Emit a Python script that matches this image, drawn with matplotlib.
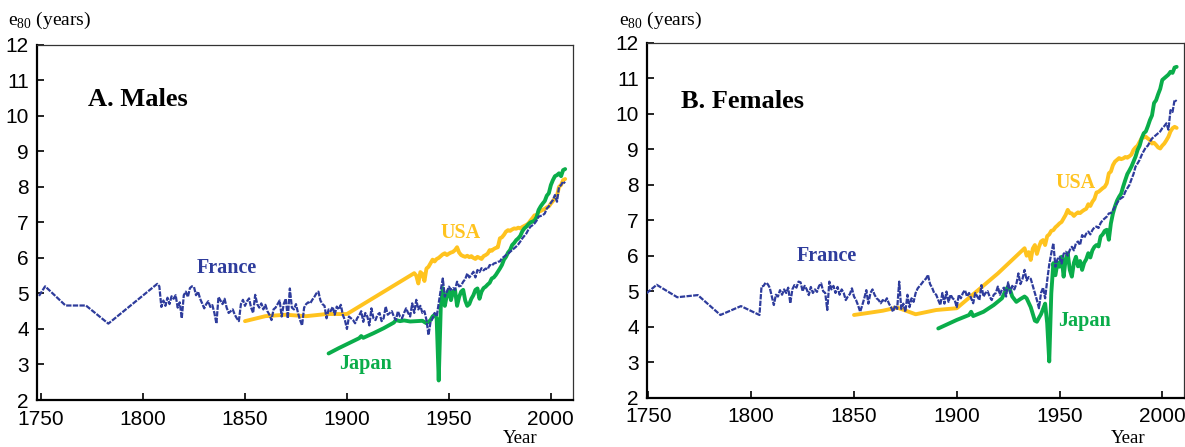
import matplotlib
matplotlib.use('Agg')
import matplotlib.pyplot as plt

plt.rcParams['font.family'] = 'Liberation Sans'
plt.rcParams['mathtext.fontset'] = 'custom'
plt.rcParams['mathtext.rm'] = 'Liberation Serif'

BLUE = '#2e3c9c'
YELLOW = '#ffc31f'
GREEN = '#0aad4a'

# ---- Males ----
m_france_years = [1749, 1752, 1762, 1772, 1783, 1807] + list(range(1808, 2008))
m_france = [4.93, 5.20, 4.66, 4.66, 4.15, 5.27,
            5.20, 4.62, 4.80, 4.65, 4.88, 4.70, 4.92, 4.85, 4.95, 4.60,
            4.75, 4.30, 4.95, 5.05, 4.90, 5.15, 5.20, 5.18, 4.95, 5.05,
            4.85, 4.72, 4.58, 4.70, 4.78, 4.62, 4.67, 4.45, 4.15, 4.90,
            4.80, 4.70, 4.85, 4.60, 4.45, 4.50, 4.55, 4.40, 4.30, 4.22,
            4.70, 4.82, 4.65, 4.78, 4.86, 4.60, 4.45, 4.96, 4.70, 4.60,
            4.72, 4.55, 4.68, 4.50, 4.40, 4.25, 4.55, 4.60, 4.70, 4.80,
            4.35, 4.70, 4.85, 4.30, 5.14, 4.60, 4.55, 4.70, 4.45, 4.25,
            4.10, 4.60, 4.70, 4.75, 4.72, 4.82, 4.90, 5.00, 5.05, 4.80,
            4.70, 4.65, 4.30, 4.55, 4.50, 4.62, 4.40, 4.63, 4.55, 4.68,
            4.39, 4.25, 4.00, 4.35, 4.30, 4.25, 4.16, 4.30, 4.38, 4.50,
            4.20, 4.45, 4.35, 4.10, 4.58, 4.30, 4.25, 4.40, 4.45, 4.22,
            4.30, 4.63, 4.40, 4.45, 4.50, 4.35, 4.25, 4.50, 4.35, 4.30,
            4.45, 4.58, 4.45, 4.35, 4.72, 4.45, 4.82, 4.55, 4.65, 4.45,
            4.50, 4.25, 3.83, 4.20, 4.30, 4.45, 4.35, 4.72, 5.10, 5.42,
            4.91, 5.05, 5.19, 5.10, 5.15, 5.10, 5.33, 5.20, 5.22, 5.33,
            5.40, 5.56, 5.45, 5.52, 5.61, 5.45, 5.66, 5.60, 5.71, 5.65,
            5.70, 5.68, 5.80, 5.78, 5.84, 5.86, 5.89, 5.90, 5.99, 6.03,
            6.08, 6.12, 6.17, 6.22, 6.27, 6.32, 6.38, 6.46, 6.55, 6.62,
            6.69, 6.80, 6.88, 6.92, 6.97, 7.05, 7.16, 7.18, 7.20, 7.25,
            7.39, 7.45, 7.55, 7.63, 7.77, 7.58, 8.00, 8.05, 8.15, 8.10]

m_usa_years = [1850, 1860, 1870, 1880, 1890, 1900] + list(range(1933, 2008))
m_usa = [4.22, 4.36, 4.40, 4.36, 4.42, 4.42,
         5.57, 5.50, 5.28, 5.60, 5.55, 5.35, 5.70, 5.75, 5.85, 5.95,
         5.90, 5.97, 6.00, 6.05, 6.10, 6.13, 6.08, 6.12, 6.15, 6.17,
         6.22, 6.30, 6.15, 6.08, 6.05, 6.03, 6.06, 6.02, 6.05, 6.00,
         5.97, 6.03, 6.00, 5.97, 6.05, 6.08, 6.12, 6.22, 6.20, 6.25,
         6.28, 6.30, 6.55, 6.58, 6.65, 6.74, 6.78, 6.76, 6.80, 6.83,
         6.82, 6.85, 6.83, 6.87, 6.90, 6.93, 6.97, 7.05, 7.12, 7.20,
         7.18, 7.30, 7.32, 7.35, 7.38, 7.42, 7.45, 7.53, 7.60, 7.68,
         7.75, 8.00, 8.05, 8.19, 8.22]

m_japan_years = [1891, 1896, 1901, 1906, 1907, 1908, 1913, 1918, 1923, 1924,
                 1926, 1928, 1931, 1934, 1937, 1939, 1940, 1941, 1942, 1943] + list(range(1944, 2008))
m_japan = [3.31, 3.46, 3.60, 3.74, 3.80, 3.75, 3.88, 4.02, 4.18, 4.25,
           4.22, 4.24, 4.21, 4.22, 4.23, 4.16, 4.20, 4.25, 4.35, 4.40,
           4.30, 2.55, 4.60, 5.15, 4.65, 4.95, 5.10, 4.81, 5.05, 5.10,
           4.65, 4.90, 5.05, 5.10, 4.80, 4.65, 4.70, 4.85, 4.95, 5.10,
           5.14, 4.85, 5.05, 5.15, 5.19, 5.25, 5.30, 5.42, 5.45, 5.52,
           5.61, 5.70, 5.80, 5.95, 6.03, 6.15, 6.22, 6.36, 6.42, 6.50,
           6.55, 6.62, 6.75, 6.83, 6.88, 6.95, 7.00, 7.02, 7.05, 7.15,
           7.35, 7.45, 7.53, 7.60, 7.75, 7.82, 8.05, 8.19, 8.30, 8.33,
           8.38, 8.30, 8.47, 8.50]

# ---- Females ----
f_france_years = [1749, 1754, 1764, 1774, 1785, 1795, 1804, 1805] + list(range(1806, 2008))
f_france = [4.94, 5.18, 4.83, 4.89, 4.33, 4.58, 4.33, 5.13,
            5.15, 5.24, 5.20, 5.10, 4.85, 4.61, 4.90, 4.85, 5.03, 4.90,
            5.05, 4.95, 5.10, 4.66, 5.05, 5.17, 5.10, 5.27, 5.25, 5.00,
            5.15, 5.05, 4.89, 5.12, 4.95, 5.05, 4.98, 5.15, 5.22, 5.00,
            4.95, 4.47, 5.27, 5.05, 5.15, 4.95, 5.12, 4.90, 5.05, 4.95,
            4.75, 4.85, 4.92, 5.08, 4.85, 4.75, 4.60, 4.42, 4.60, 4.80,
            5.03, 4.65, 4.95, 5.05, 4.90, 4.80, 4.75, 4.66, 4.75, 4.70,
            4.80, 4.65, 4.55, 4.42, 4.60, 4.50, 5.27, 4.50, 4.65, 4.42,
            4.90, 4.55, 4.80, 4.70, 4.95, 5.08, 5.15, 5.22, 5.30, 5.35,
            5.46, 5.20, 5.10, 4.95, 4.90, 4.75, 4.61, 4.95, 4.65, 4.99,
            4.70, 4.90, 4.80, 4.75, 4.55, 4.90, 4.80, 4.95, 5.03, 4.85,
            4.95, 4.80, 4.66, 4.95, 4.85, 4.75, 5.17, 4.85, 4.95, 5.00,
            4.85, 4.75, 4.90, 4.95, 5.13, 4.90, 5.05, 5.10, 4.85, 5.25,
            4.95, 5.15, 5.05, 5.20, 5.50, 5.20, 5.35, 5.60, 5.30, 5.40,
            5.35, 5.15, 4.95, 4.75, 4.52, 4.95, 5.10, 4.80, 5.30, 5.75,
            6.07, 6.35, 5.69, 5.90, 5.97, 5.78, 6.05, 6.11, 6.00, 6.16,
            6.25, 6.15, 6.35, 6.40, 6.30, 6.58, 6.50, 6.62, 6.68, 6.60,
            6.72, 6.80, 6.82, 6.78, 6.92, 7.00, 7.05, 7.10, 7.19, 7.20,
            7.28, 7.38, 7.48, 7.58, 7.62, 7.66, 7.80, 7.90, 7.99, 8.15,
            8.30, 8.51, 8.60, 8.70, 8.84, 8.95, 9.05, 9.10, 9.21, 9.30,
            9.35, 9.40, 9.45, 9.50, 9.59, 9.65, 9.73, 9.55, 10.10, 10.05,
            10.39, 10.35]

f_usa_years = [1850, 1856, 1864, 1871, 1880, 1890, 1900, 1920] + list(range(1933, 2008))
f_usa = [4.33, 4.38, 4.45, 4.54, 4.35, 4.47, 4.52, 5.50,
         6.21, 6.00, 6.10, 5.88, 6.20, 6.30, 6.05, 6.25, 6.40, 6.44,
         6.30, 6.55, 6.60, 6.70, 6.72, 6.80, 6.85, 6.91, 6.95, 7.05,
         7.15, 7.29, 7.20, 7.19, 7.12, 7.18, 7.22, 7.20, 7.25, 7.29,
         7.32, 7.45, 7.40, 7.52, 7.60, 7.78, 7.80, 7.85, 7.90, 7.94,
         8.04, 8.32, 8.37, 8.55, 8.65, 8.70, 8.75, 8.72, 8.74, 8.78,
         8.76, 8.80, 8.85, 8.98, 9.05, 9.10, 9.21, 9.31, 9.33, 9.35,
         9.30, 9.26, 9.16, 9.18, 9.12, 9.05, 9.02, 9.10, 9.16, 9.25,
         9.35, 9.50, 9.59, 9.63, 9.60]

f_japan_years = [1891, 1900, 1906, 1907, 1908, 1913, 1918, 1922, 1924, 1925,
                 1926, 1927, 1929, 1931, 1933, 1934, 1936, 1938, 1939, 1940,
                 1941, 1942, 1943] + list(range(1944, 2008))
f_japan = [3.95, 4.19, 4.33, 4.42, 4.30, 4.42, 4.61, 4.80, 5.05, 5.13,
           5.03, 4.85, 4.70, 4.78, 4.85, 4.80, 4.55, 4.17, 4.14, 4.25,
           4.35, 4.50, 4.65,
           4.10, 3.02, 4.94, 5.79, 5.45, 5.80, 5.69, 5.97, 5.41, 5.90,
           6.07, 5.60, 5.41, 5.80, 5.97, 5.70, 5.85, 5.60, 5.80, 5.90,
           6.07, 5.95, 6.15, 6.25, 6.30, 6.26, 6.54, 6.60, 6.70, 6.73,
           6.45, 6.91, 7.19, 7.39, 7.55, 7.66, 7.75, 7.95, 8.13, 8.30,
           8.40, 8.51, 8.65, 8.79, 8.98, 9.10, 9.31, 9.45, 9.50, 9.65,
           9.82, 9.95, 10.30, 10.38, 10.55, 10.70, 10.95, 11.00, 11.05, 11.10,
           11.18, 11.15, 11.30, 11.32]

serif = 'Liberation Serif'


def draw_panel(ax, france, usa, japan, title, title_pos, labels):
    ax.plot(usa[0], usa[1], color=YELLOW, lw=2.8, solid_capstyle='round', zorder=2)
    ax.plot(japan[0], japan[1], color=GREEN, lw=2.8, solid_capstyle='round', zorder=3)
    ax.plot(france[0], france[1], color=BLUE, lw=1.6, ls=(0, (2.4, 0.6)), zorder=4)

    ax.set_ylim(2, 12)
    ax.set_yticks(range(2, 13))
    ax.set_xticks([1750, 1800, 1850, 1900, 1950, 2000])
    ax.tick_params(direction='in', length=5, width=1.2, labelsize=15)
    ax.tick_params(axis='x', pad=7)
    ax.tick_params(axis='y', pad=6)
    for side in ['left', 'bottom']:
        ax.spines[side].set_linewidth(1.6)
    for side in ['top', 'right']:
        ax.spines[side].set_linewidth(0.9)
        ax.spines[side].set_color('#333333')

    ax.text(title_pos[0], title_pos[1], title, family=serif, weight='bold',
            fontsize=19, va='center', ha='left')
    for name, color, (x, y) in zip(['France', 'USA', 'Japan'], [BLUE, YELLOW, GREEN], labels):
        ax.text(x, y, name, family=serif, weight='bold', fontsize=14.5,
                color=color, ha='center', va='center')


fig = plt.figure(figsize=(11.85, 4.47), dpi=100)

ax1 = fig.add_axes([0.0312, 0.1051, 0.4526, 0.7949])
ax1.set_xlim(1748, 2011)
draw_panel(ax1, (m_france_years, m_france), (m_usa_years, m_usa), (m_japan_years, m_japan),
           'A. Males', (1773, 10.45), [(1841, 5.72), (1955.5, 6.7), (1909, 3.0)])

ax2 = fig.add_axes([0.5462, 0.1103, 0.4530, 0.7942])
ax2.set_xlim(1749.4, 2010.6)
draw_panel(ax2, (f_france_years, f_france), (f_usa_years, f_usa), (f_japan_years, f_japan),
           'B. Females', (1766, 10.35), [(1837, 5.99), (1958, 8.05), (1962, 4.16)])

for x0 in [0.007, 0.522]:
    fig.text(x0, 0.955, r'e$_{\mathrm{80}}$ (years)', family=serif, fontsize=14, va='center')
for xc in [0.439, 0.952]:
    fig.text(xc, 0.018, 'Year', family=serif, fontsize=13.5, ha='center', va='center')

fig.savefig('out.png', dpi=100)
